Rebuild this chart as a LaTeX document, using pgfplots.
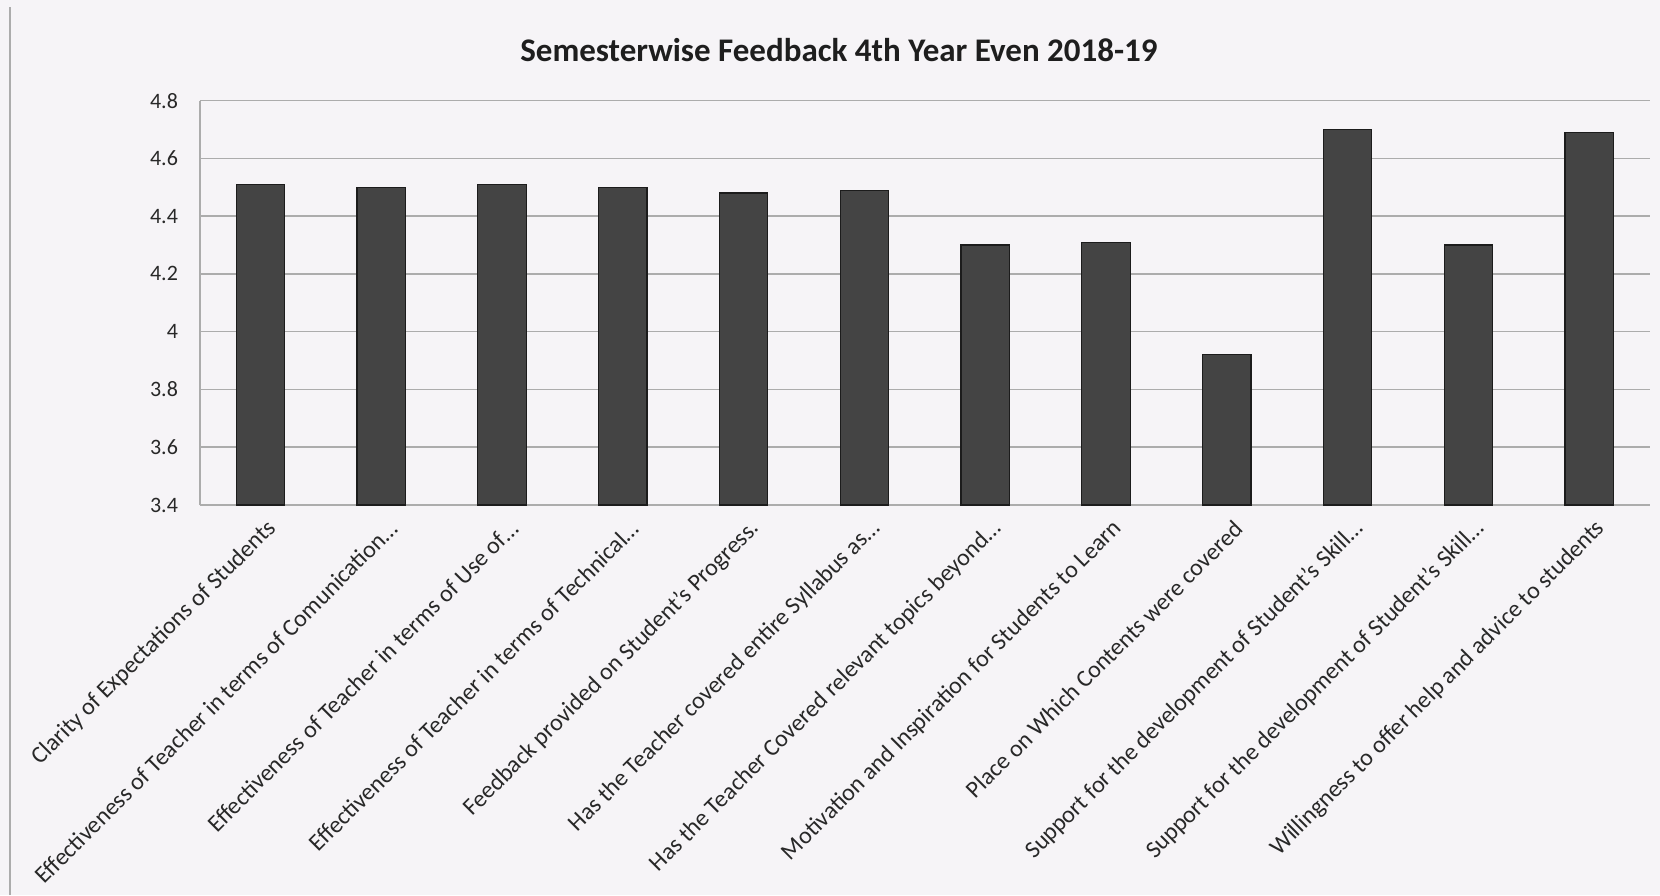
\documentclass[border=0pt]{standalone}
\usepackage{pgfplots}
\pgfplotsset{compat=1.18}
\usepackage{fontspec}
\setmainfont{Carlito}
\definecolor{bg}{RGB}{246,244,247}
\definecolor{barfill}{RGB}{68,68,68}
\definecolor{baredge}{RGB}{28,28,28}
\definecolor{gridc}{RGB}{172,172,172}
\definecolor{txt}{RGB}{40,40,40}
\begin{document}
\begin{tikzpicture}
\fill[bg] (-100pt,-195pt) rectangle (730pt,252.5pt);
\draw[gridc, line width=0.8pt] (-95pt,-195pt) -- (-95pt,249pt);
\begin{axis}[
  at={(0,0)}, anchor=south west,
  scale only axis, width=724.8pt, height=202.2pt,
  xmin=-0.5, xmax=11.5, ymin=3.4, ymax=4.8,
  axis x line*=bottom, axis y line*=left,
  axis line style={gridc, line width=0.8pt},
  major tick length=0pt,
  ymajorgrids, grid style={gridc, line width=0.8pt},
  ytick={3.4,3.6,3.8,4,4.2,4.4,4.6,4.8},
  yticklabels={3.4,3.6,3.8,4,4.2,4.4,4.6,4.8},
  yticklabel style={font=\fontsize{11}{13}\selectfont, text=txt, xshift=-7.5pt},
  xtick={0,1,2,3,4,5,6,7,8,9,10,11},
  xticklabels={
    Clarity of Expectations of Students,
    Effectiveness of Teacher in terms of Comunication…,
    Effectiveness of Teacher in terms of Use of…,
    Effectiveness of Teacher in terms of Technical…,
    Feedback provided on Student's Progress.,
    Has the Teacher covered entire Syllabus as…,
    Has the Teacher Covered relevant topics beyond…,
    Motivation and Inspiration for Students to Learn,
    Place on Which Contents were covered,
    Support for the development of Student's Skill…,
    Support for the development of Student's Skill…,
    Willingness to offer help and advice to students},
  xticklabel style={font=\fontsize{12}{14}\selectfont, text=txt, anchor=east, xshift=8.5pt, yshift=-7.5pt, rotate=45},
  /pgf/number format/assume math mode=true,
]
\addplot[ybar, bar width=24.2pt, fill=barfill, draw=baredge, line width=0.6pt] coordinates {
  (0,4.51) (1,4.50) (2,4.51) (3,4.50) (4,4.48) (5,4.49)
  (6,4.30) (7,4.31) (8,3.92) (9,4.70) (10,4.30) (11,4.69)};
\end{axis}
\node[font=\fontsize{16.5}{20}\selectfont\bfseries, text={rgb,255:red,30;green,30;blue,30}] at (319.5pt,227.6pt) {Semesterwise Feedback 4th Year Even 2018-19};
\pgfresetboundingbox
\path[use as bounding box] (-100pt,-195pt) rectangle (730pt,252.5pt);
\end{tikzpicture}
\end{document}
